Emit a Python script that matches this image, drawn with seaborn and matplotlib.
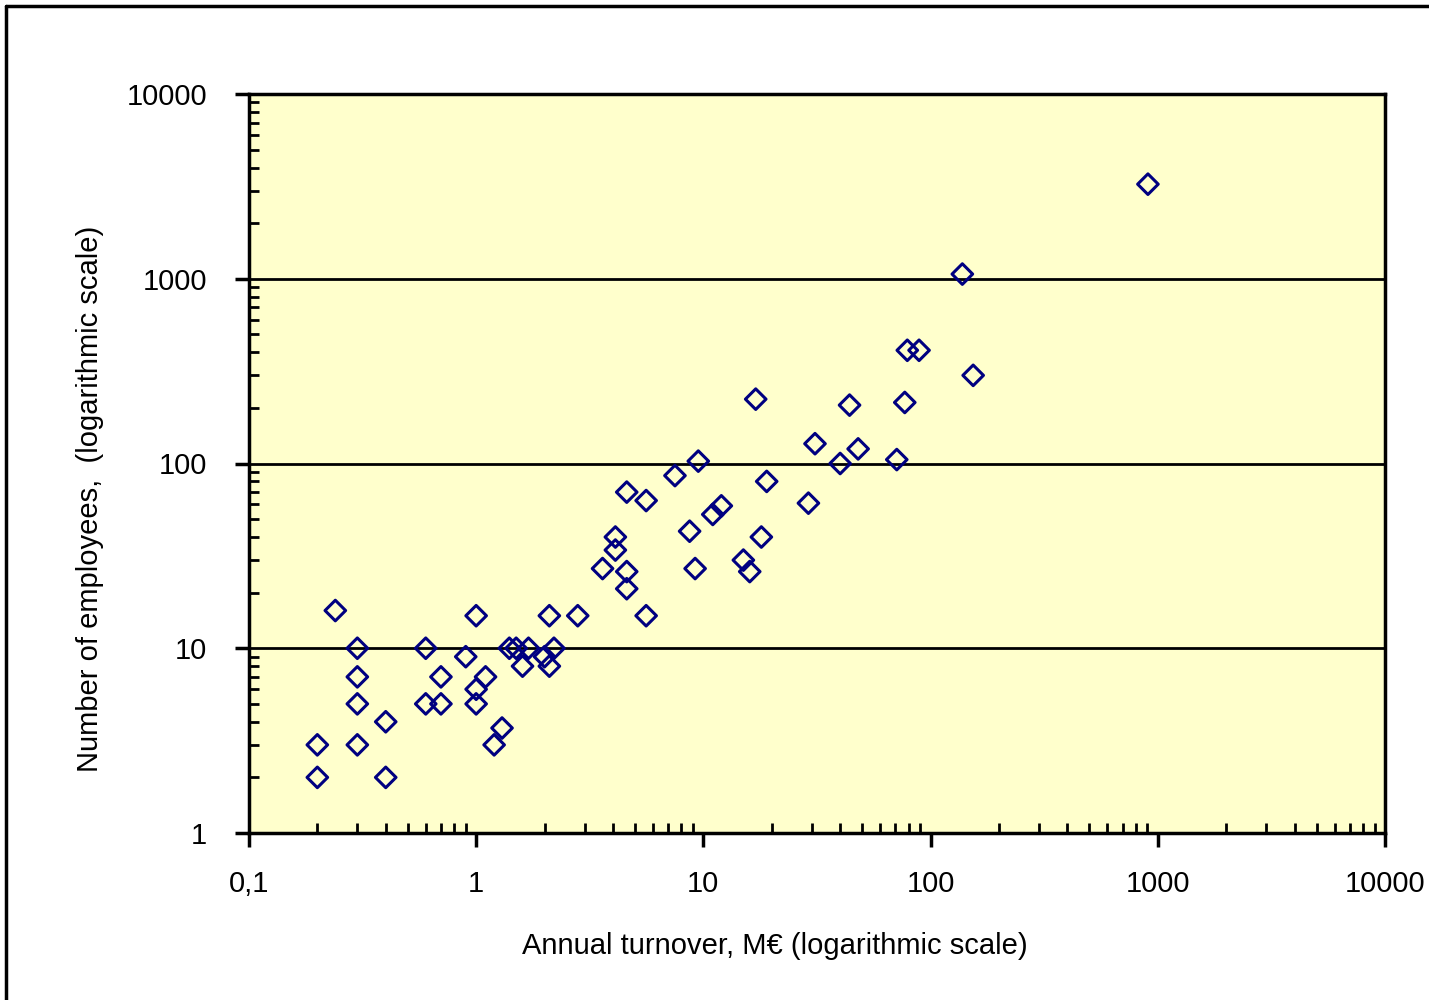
import matplotlib
matplotlib.use("Agg")
import matplotlib.pyplot as plt
import matplotlib.ticker as mticker
from matplotlib.lines import Line2D
import seaborn as sns
import pandas as pd

# turnover (M€) and number of employees
turnover = [0.2, 0.2, 0.24, 0.3, 0.3, 0.3, 0.3, 0.4, 0.4, 0.6,
            0.6, 0.7, 0.7, 0.9, 1.0, 1.0, 1.0, 1.1, 1.2, 1.3,
            1.4, 1.5, 1.6, 1.7, 2.0, 2.1, 2.1, 2.2, 2.8, 3.6,
            4.1, 4.1, 4.6, 4.6, 4.6, 5.6, 5.6, 7.5, 8.7, 9.2,
            9.5, 11, 12, 15, 16, 17, 18, 19, 29, 31,
            40, 44, 48, 71, 77, 79, 89, 138, 154, 905]
employees = [3, 2, 16, 10, 7, 5, 3, 4, 2, 10,
             5, 7, 5, 9, 15, 6, 5, 7, 3, 3.7,
             10, 10, 8, 10, 9, 8, 15, 10, 15, 27,
             40, 34, 70, 26, 21, 63, 15, 86, 43, 27,
             103, 53, 59, 30, 26, 223, 40, 80, 61, 128,
             100, 207, 120, 105, 214, 410, 410, 1060, 300, 3250]

x_ticks = [0.1, 1, 10, 100, 1000, 10000]
x_tick_labels = ["0,1", "1", "10", "100", "1000", "10000"]
y_ticks = [1, 10, 100, 1000, 10000]
y_tick_labels = ["1", "10", "100", "1000", "10000"]

df = pd.DataFrame({"turnover": turnover, "employees": employees})

sns.set_style("white")
plt.rcParams["font.family"] = ["Liberation Sans", "DejaVu Sans"]
plt.rcParams["text.color"] = "black"
plt.rcParams["axes.labelcolor"] = "black"
plt.rcParams["xtick.direction"] = "in"
plt.rcParams["ytick.direction"] = "in"

fig = plt.figure(figsize=(14.29, 10), dpi=100)
ax = fig.add_axes([0.1742, 0.167, 0.795, 0.739])
ax.set_facecolor("#FFFFCC")

ax.set_xscale("log")
ax.set_yscale("log")
ax.set_xlim(0.1, 10000)
ax.set_ylim(1, 10000)

# horizontal gridlines at the major y ticks
for v in y_ticks[1:-1]:
    ax.axhline(v, color="black", lw=2, zorder=1)

sns.scatterplot(data=df, x="turnover", y="employees", ax=ax, marker="D", s=110,
                facecolors="none", edgecolor="#000080", linewidth=2.2, zorder=3,
                legend=False)

ax.set_xticks(x_ticks)
ax.set_xticklabels(x_tick_labels)
ax.set_yticks(y_ticks)
ax.set_yticklabels(y_tick_labels)
ax.xaxis.set_minor_locator(mticker.LogLocator(base=10, subs=range(2, 10)))
ax.yaxis.set_minor_locator(mticker.LogLocator(base=10, subs=range(2, 10)))
ax.xaxis.set_minor_formatter(mticker.NullFormatter())
ax.yaxis.set_minor_formatter(mticker.NullFormatter())

ax.tick_params(which="both", bottom=True, left=True, top=False, right=False)
ax.tick_params(which="major", direction="out", length=10, width=2.5,
               labelsize=21, colors="black", labelcolor="black")
ax.tick_params(axis="x", which="major", pad=17)
ax.tick_params(axis="y", which="major", pad=20)
ax.tick_params(which="minor", direction="in", length=7, width=2, colors="black")

for sp in ax.spines.values():
    sp.set_color("black")
    sp.set_linewidth(2.5)
    sp.set_visible(True)

ax.set_xlabel("Annual turnover, M€ (logarithmic scale)", fontsize=21, color="black")
ax.set_ylabel("Number of employees,  (logarithmic scale)", fontsize=21, color="black")
ax.xaxis.set_label_coords(0.463, -0.134)
ax.yaxis.set_label_coords(-0.128, 0.452)

# outer frame of the original chart area
fig.add_artist(Line2D([0.0045, 0.0045], [0, 0.994], color="black", lw=2.5,
                      transform=fig.transFigure))
fig.add_artist(Line2D([0.0045, 1], [0.994, 0.994], color="black", lw=2.5,
                      transform=fig.transFigure))

fig.savefig("out.png", dpi=100)
